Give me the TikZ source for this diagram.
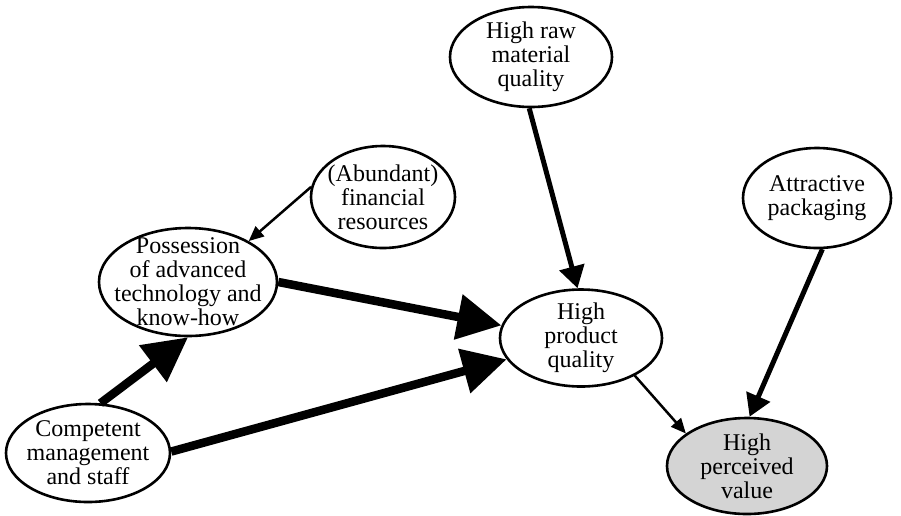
\documentclass[tikz,border=0pt]{standalone}
\usepackage{fontspec}
\setmainfont{Liberation Serif}
\usetikzlibrary{shapes.geometric,arrows.meta}

\tikzset{
  oval/.style={draw=black, ellipse, line width=2.6pt, inner sep=0pt},
  lbl/.style={align=center, inner sep=0pt, font=\fontsize{24}{24}\selectfont},
  heavy/.style={line width=8.5pt, -{Triangle[length=44pt,width=44pt]}},
  medium/.style={line width=5pt, -{Triangle[length=22pt,width=25pt]}},
  slim/.style={line width=2.5pt, -{Triangle[length=15pt,width=13pt]}},
}

\begin{document}
\begin{tikzpicture}[x=1pt,y=-1pt]
  \useasboundingbox (0,0) rectangle (901,515);

  % factor ovals
  \node[oval, minimum width=162pt, minimum height=100pt] (raw)  at (531,57)  {};
  \node[oval, minimum width=144pt, minimum height=102pt] (fin)  at (383,197) {};
  \node[oval, minimum width=148pt, minimum height=100pt] (pack) at (817,198) {};
  \node[oval, minimum width=178pt, minimum height=108pt] (poss) at (188,282) {};
  \node[oval, minimum width=162pt, minimum height=97pt]  (prod) at (581,338) {};
  \node[oval, minimum width=164pt, minimum height=98pt]  (comp) at (88,453)  {};
  \node[oval, fill=black!17, minimum width=160pt, minimum height=96pt] (perc) at (747,466) {};

  % labels
  \node[lbl] (raw-t)  at (raw)  {High raw\\material\\quality};
  \node[lbl] (fin-t)  at (fin)  {(Abundant)\\financial\\resources};
  \node[lbl] (pack-t) at (pack) {Attractive\\packaging};
  \node[lbl] (poss-t) at (poss) {Possession\\of advanced\\technology and\\know-how};
  \node[lbl] (prod-t) at (prod) {High\\product\\quality};
  \node[lbl] (comp-t) at (comp) {Competent\\management\\and staff};
  \node[lbl] (perc-t) at (perc) {High\\perceived\\value};

  % influences
  \draw[slim]   (fin.172)  -- (poss.34);
  \draw[heavy]  (poss.0)   -- (prod.171);
  \draw[heavy]  (comp.76)  -- (poss.270);
  \draw[heavy]  (comp.1)   -- (prod.196);
  \draw[medium] (raw.268)  -- (prod.94);
  \draw[slim]   (prod.325) -- (perc.152);
  \draw[medium] (pack.276) -- (perc.87);
\end{tikzpicture}
\end{document}
